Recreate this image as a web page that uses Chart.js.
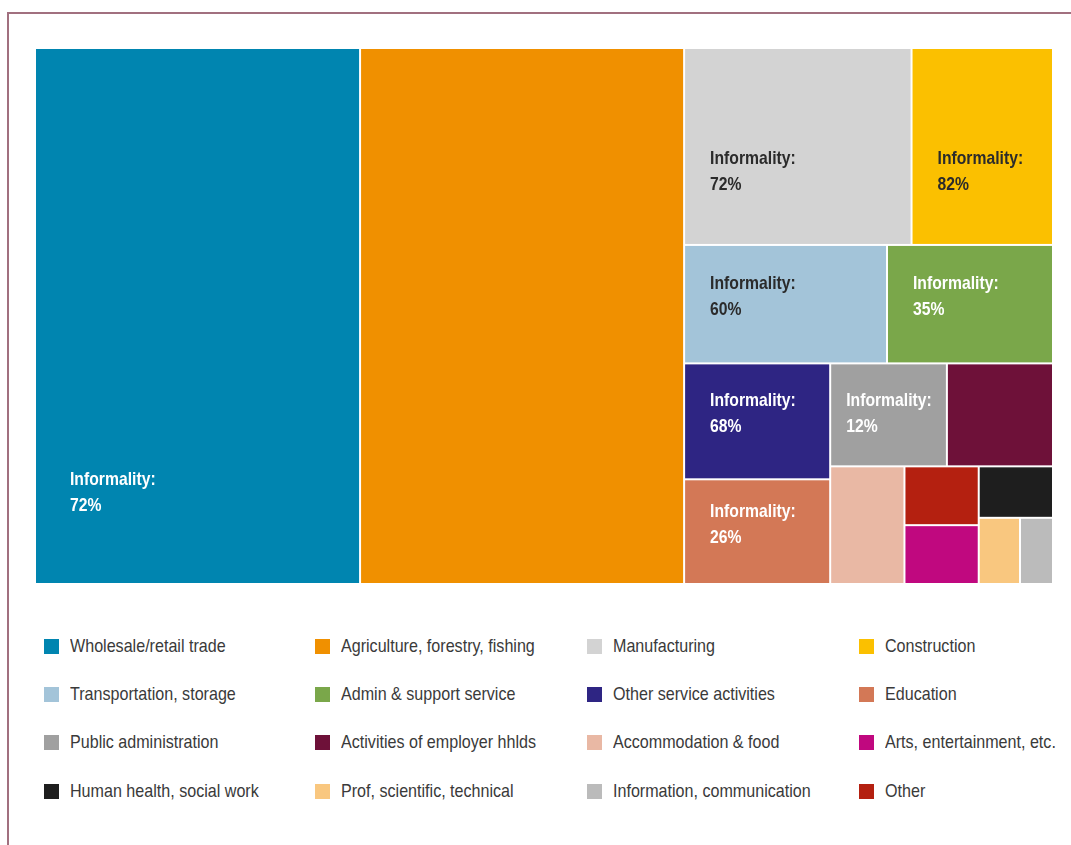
<!DOCTYPE html>
<html lang="en">
<head>
<meta charset="UTF-8">
<title>Employment by sector and informality</title>
<script src="https://cdn.jsdelivr.net/npm/chart.js@4.4.1/dist/chart.umd.min.js"></script>
<style>
  body { margin: 0; background: #fff; font-family: "Liberation Sans", Arial, sans-serif; }
  #page { position: relative; width: 1071px; height: 845px; overflow: hidden; }
  #frame { position: absolute; left: 7px; top: 12px; right: -10px; bottom: -10px;
           border-top: 2px solid #a1707f; border-left: 2px solid #a1707f; }
  #chart { position: absolute; left: 0; top: 0; }
  .legend-item { position: absolute; display: flex; align-items: center; height: 24px;
                 font-size: 18.5px; color: #3a3a3a; white-space: nowrap; }
  .legend-item .box { width: 15px; height: 15px; margin-right: 11px; flex: none; }
  /* narrow face: regular sans squeezed horizontally */
  .legend-item .name { display: inline-block; transform: scaleX(0.87); transform-origin: left center; }
</style>
</head>
<body>
<div id="page">
  <div id="frame"></div>
  <canvas id="chart" width="1071" height="600"></canvas>
  <div id="legend"></div>
</div>

<script>
// sectors in legend order
const sectors = [
  'Wholesale/retail trade', 'Agriculture, forestry, fishing', 'Manufacturing', 'Construction',
  'Transportation, storage', 'Admin & support service', 'Other service activities', 'Education',
  'Public administration', 'Activities of employer hhlds', 'Accommodation & food', 'Arts, entertainment, etc.',
  'Human health, social work', 'Prof, scientific, technical', 'Information, communication', 'Other'
];

// share of employment (%), sets the cell area
const employmentShare = [31.9, 31.8, 8.2, 5.1, 4.4, 3.6, 3.1, 2.8, 2.2, 2.0, 1.6, 0.8, 0.7, 0.5, 0.4, 0.8];

// informality rate (%) shown inside the larger cells
const informality = [72, null, 72, 82, 60, 35, 68, 26, 12, null, null, null, null, null, null, null];

const sectorColors = [
  '#0085b0', '#f09000', '#d3d3d3', '#fbc000',
  '#a3c4d9', '#7aa74a', '#2e2583', '#d37856',
  '#a0a0a0', '#6e1139', '#e9b8a4', '#c0087f',
  '#1e1e1e', '#f9c77f', '#bbbbbb', '#b42010'
];

// label styling per cell: text colour, left padding (px), vertical position (fraction of cell)
const darkText = [2, 3, 4];
const labelPad = {0: 35, 8: 16};
const labelAt = {0: 0.83, 2: 0.63, 3: 0.63, 8: 0.49};

// slice-and-dice tree: 'h' splits along x, 'v' along y, numbers are sector indices
const layoutTree = ['h', 0, 1,
  ['v',
    ['h', 2, 3],
    ['h', 4, 5],
    ['h',
      ['v', 6, 7],
      ['v',
        ['h', 8, 9],
        ['h', 10, ['v', 15, 11], ['v', 12, ['h', 13, 14]]]]]]];

function nodeTotal(node) {
  if (typeof node === 'number') return employmentShare[node];
  return node.slice(1).reduce((s, c) => s + nodeTotal(c), 0);
}

function layout(node, x0, y0, x1, y1, out) {
  if (typeof node === 'number') {
    out[node] = {x0, y0, x1, y1};
    return out;
  }
  const dir = node[0];
  const total = nodeTotal(node);
  const span = dir === 'h' ? x1 - x0 : y1 - y0;
  let pos = dir === 'h' ? x0 : y0;
  node.slice(1).forEach(child => {
    const size = span * nodeTotal(child) / total;
    if (dir === 'h') layout(child, pos, y0, pos + size, y1, out);
    else layout(child, x0, pos, x1, pos + size, out);
    pos += size;
  });
  return out;
}

// draws the treemap cells through the chart's x/y scales
const treemapCells = {
  id: 'treemapCells',
  afterDatasetsDraw(chart) {
    const {ctx, scales: {x, y}} = chart;
    const cells = layout(layoutTree, 0, 0, 1, 1, []);
    ctx.save();
    cells.forEach((c, i) => {
      const left = x.getPixelForValue(c.x0), right = x.getPixelForValue(c.x1);
      const top = y.getPixelForValue(c.y0), bottom = y.getPixelForValue(c.y1);
      ctx.fillStyle = sectorColors[i];
      ctx.fillRect(left + 1, top + 1, right - left - 2, bottom - top - 2);

      if (informality[i] == null) return;
      const cy = top + (bottom - top) * (labelAt[i] ?? 0.44);
      const tx = left + (labelPad[i] ?? 26);
      ctx.save();
      ctx.translate(tx, cy);
      ctx.scale(0.85, 1);
      ctx.fillStyle = darkText.includes(i) ? '#2b2b2b' : '#ffffff';
      ctx.font = 'bold 18.5px "Liberation Sans", Arial, sans-serif';
      ctx.textBaseline = 'middle';
      ctx.textAlign = 'left';
      ctx.fillText('Informality:', 0, -13);
      ctx.fillText(informality[i] + '%', 0, 13);
      ctx.restore();
    });
    ctx.restore();
  }
};

new Chart(document.getElementById('chart'), {
  type: 'scatter',
  data: { datasets: [{ data: [] }] },
  options: {
    responsive: false,
    animation: false,
    layout: { padding: { left: 35, top: 48, right: 18, bottom: 16 } },
    scales: {
      x: { type: 'linear', min: 0, max: 1, display: false },
      y: { type: 'linear', min: 0, max: 1, reverse: true, display: false }
    },
    plugins: { legend: { display: false }, tooltip: { enabled: false } }
  },
  plugins: [treemapCells]
});

// legend: 4 columns x 4 rows under the treemap
const legendCols = [44, 315, 587, 859];
const legendRows = [646, 694, 742, 791];
const legend = document.getElementById('legend');
sectors.forEach((name, i) => {
  const item = document.createElement('div');
  item.className = 'legend-item';
  item.style.left = legendCols[i % 4] + 'px';
  item.style.top = (legendRows[Math.floor(i / 4)] - 12) + 'px';
  item.innerHTML = '<span class="box" style="background:' + sectorColors[i] + '"></span>' +
    '<span class="name">' + name + '</span>';
  legend.appendChild(item);
});
</script>
</body>
</html>
